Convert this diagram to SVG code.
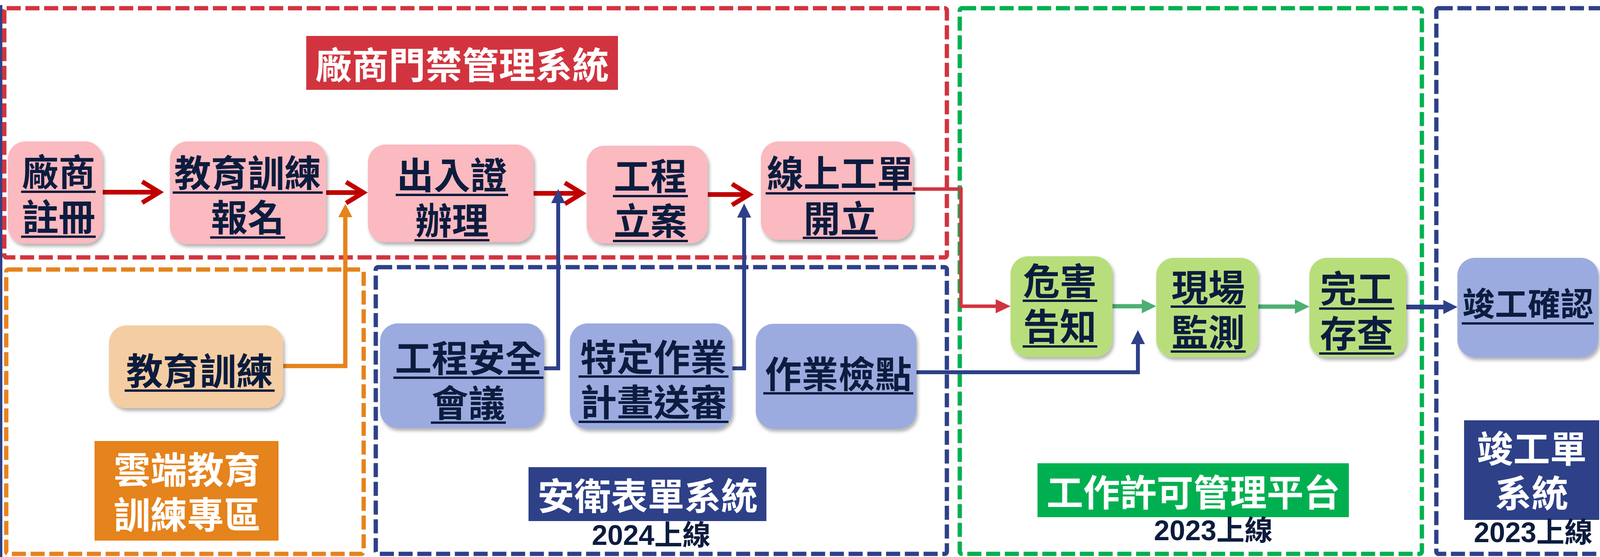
<svg xmlns="http://www.w3.org/2000/svg" width="4154" height="1426" viewBox="0 0 4154 1426">
<style>
.bg{fill:#ffffff}
.box{fill:none;stroke-width:11;stroke-dasharray:36 12}
.red{stroke:#D1343F}.org{stroke:#E5831C}.blu{stroke:#2E4088}.grn{stroke:#00B050}
.pink{fill:#FBB9C0}.lav{fill:#9BABDF}.lg{fill:#B8DE7C}.peach{fill:#F4CDA2}
.nt,.tt{font-family:"Noto Sans CJK TC","Noto Sans CJK SC",sans-serif;font-weight:700;font-size:94px;text-anchor:middle;dominant-baseline:central}
.nt{fill:#0C1C3E}
.tt{fill:#ffffff}
.nt tspan,.tt tspan{dominant-baseline:central}
.yr{font-family:"Liberation Sans","Noto Sans CJK TC",sans-serif;font-weight:700;font-size:72px;fill:#0C1C3E;text-anchor:middle;dominant-baseline:central}
.ul{stroke:#0C1C3E;stroke-width:6}
.c{fill:none;stroke-linejoin:miter}
</style>
<defs>
<filter id="sh" x="-10%" y="-10%" width="125%" height="130%">
<feDropShadow dx="4" dy="7" stdDeviation="4" flood-color="#000" flood-opacity="0.3"/>
</filter>
<marker id="chev" markerUnits="userSpaceOnUse" markerWidth="80" markerHeight="80" viewBox="-60 -40 80 80" refX="0" refY="0" orient="auto" overflow="visible">
<path d="M -44 -27 L 0 0 L -44 27" fill="none" stroke="#C00000" stroke-width="12"/>
</marker>
<marker id="triR" markerUnits="userSpaceOnUse" markerWidth="40" markerHeight="40" viewBox="0 -20 40 40" refX="0" refY="0" orient="auto" overflow="visible">
<path d="M 0 -18 L 38 0 L 0 18 Z" fill="#D1343F"/>
</marker>
<marker id="triB" markerUnits="userSpaceOnUse" markerWidth="40" markerHeight="40" viewBox="0 -20 40 40" refX="0" refY="0" orient="auto" overflow="visible">
<path d="M 0 -18 L 36 0 L 0 18 Z" fill="#2E4088"/>
</marker>
<marker id="triO" markerUnits="userSpaceOnUse" markerWidth="40" markerHeight="40" viewBox="0 -20 40 40" refX="0" refY="0" orient="auto" overflow="visible">
<path d="M 0 -18 L 34 0 L 0 18 Z" fill="#E5831C"/>
</marker>
<marker id="triG" markerUnits="userSpaceOnUse" markerWidth="40" markerHeight="40" viewBox="0 -20 40 40" refX="0" refY="0" orient="auto" overflow="visible">
<path d="M 0 -18 L 37 0 L 0 18 Z" fill="#4DAF72"/>
</marker>
</defs>
<rect class="bg" x="0" y="0" width="4154" height="1426"/>
<rect x="0" y="13" width="6" height="1413" fill="#2E4088"/>

<g id="containers">
<rect class="box red" x="11" y="21" width="2413" height="638" rx="6"/>
<rect class="box org" x="16" y="690" width="915" height="728" rx="6"/>
<rect class="box blu" x="962" y="684" width="1462" height="734" rx="6"/>
<rect class="box grn" x="2457" y="21" width="1183" height="1397" rx="6"/>
<rect class="box blu" x="3677" y="21" width="520" height="1397" rx="6"/>
</g>

<g id="labels">
<g id="label-vendor">
<rect x="784" y="92" width="798" height="138" fill="#D1343F"/>
<text class="tt" x="1183" y="161">廠商門禁管理系統</text>
</g>
<g id="label-cloud">
<rect x="242" y="1129" width="471" height="255" fill="#E5831C"/>
<text class="tt"><tspan x="479" y="1197">雲端教育</tspan><tspan x="479" y="1312">訓練專區</tspan></text>
</g>
<g id="label-safety">
<rect x="1353" y="1196" width="609" height="138" fill="#2E4088"/>
<text class="tt" x="1658" y="1264">安衛表單系統</text>
<text class="yr" x="1667" y="1370">2024上線</text>
</g>
<g id="label-permit">
<rect x="2656" y="1186" width="797" height="138" fill="#00B050"/>
<text class="tt" x="3055" y="1255">工作許可管理平台</text>
<text class="yr" x="3106" y="1358">2023上線</text>
</g>
<g id="label-completion">
<rect x="3748" y="1076" width="346" height="255" fill="#2E4088"/>
<text class="tt"><tspan x="3921" y="1143">竣工單</tspan><tspan x="3921" y="1257">系統</tspan></text>
<text class="yr" x="3925" y="1363">2023上線</text>
</g>
</g>

<g id="connectors">
<path class="c" d="M 263 492 H 408" stroke="#C00000" stroke-width="12" marker-end="url(#chev)"/>
<path class="c" d="M 835 493 H 930" stroke="#C00000" stroke-width="12" marker-end="url(#chev)"/>
<path class="c" d="M 1366 495 H 1490" stroke="#C00000" stroke-width="12" marker-end="url(#chev)"/>
<path class="c" d="M 1812 498 H 1918" stroke="#C00000" stroke-width="12" marker-end="url(#chev)"/>
<path class="c" d="M 2337 484 H 2460 V 784 H 2549" stroke="#D1343F" stroke-width="9" marker-end="url(#triR)"/>
<path class="c" d="M 725 937 H 884 V 556" stroke="#E5831C" stroke-width="11" marker-end="url(#triO)"/>
<path class="c" d="M 1393 943 H 1429 V 520" stroke="#2E4088" stroke-width="10" marker-end="url(#triB)"/>
<path class="c" d="M 1875 943 H 1905 V 557" stroke="#2E4088" stroke-width="10" marker-end="url(#triB)"/>
<path class="c" d="M 2346 953 H 2913 V 881" stroke="#2E4088" stroke-width="10" marker-end="url(#triB)"/>
<path class="c" d="M 2848 784 H 2923" stroke="#4DAF72" stroke-width="11" marker-end="url(#triG)"/>
<path class="c" d="M 3221 785 H 3315" stroke="#4DAF72" stroke-width="11" marker-end="url(#triG)"/>
<path class="c" d="M 3600 786 H 3695" stroke="#2E4088" stroke-width="12" marker-end="url(#triB)"/>
</g>

<g id="n-vendor-reg">
<rect class="pink" x="20" y="362" width="243" height="262" rx="45" filter="url(#sh)"/>
<text class="nt"><tspan x="150" y="435">廠商</tspan><tspan x="150" y="550">註冊</tspan></text>
<line class="ul" x1="54" y1="491" x2="245" y2="491"/>
<line class="ul" x1="54" y1="606" x2="245" y2="606"/>
</g>
<g id="n-training-signup">
<rect class="pink" x="435" y="362" width="400" height="263" rx="45" filter="url(#sh)"/>
<text class="nt"><tspan x="634" y="437">教育訓練</tspan><tspan x="634" y="551">報名</tspan></text>
<line class="ul" x1="442" y1="493" x2="826" y2="493"/>
<line class="ul" x1="538" y1="608" x2="730" y2="608"/>
</g>
<g id="n-pass">
<rect class="pink" x="942" y="370" width="424" height="250" rx="45" filter="url(#sh)"/>
<text class="nt"><tspan x="1157" y="443">出入證</tspan><tspan x="1157" y="559">辦理</tspan></text>
<line class="ul" x1="1013" y1="499" x2="1301" y2="499"/>
<line class="ul" x1="1061" y1="615" x2="1253" y2="615"/>
</g>
<g id="n-project">
<rect class="pink" x="1502" y="373" width="310" height="250" rx="45" filter="url(#sh)"/>
<text class="nt"><tspan x="1665" y="445">工程</tspan><tspan x="1665" y="560">立案</tspan></text>
<line class="ul" x1="1569" y1="502" x2="1761" y2="502"/>
<line class="ul" x1="1569" y1="617" x2="1761" y2="617"/>
</g>
<g id="n-workorder">
<rect class="pink" x="1948" y="362" width="389" height="252" rx="45" filter="url(#sh)"/>
<text class="nt"><tspan x="2151" y="438">線上工單</tspan><tspan x="2151" y="554">開立</tspan></text>
<line class="ul" x1="1960" y1="495" x2="2343" y2="495"/>
<line class="ul" x1="2055" y1="609" x2="2247" y2="609"/>
</g>
<g id="n-training">
<rect class="peach" x="279" y="833" width="446" height="212" rx="45" filter="url(#sh)"/>
<text class="nt" x="511" y="944">教育訓練</text>
<line class="ul" x1="319" y1="1000" x2="703" y2="1000"/>
</g>
<g id="n-safety-meeting">
<rect class="lav" x="973" y="828" width="420" height="268" rx="45" filter="url(#sh)"/>
<text class="nt"><tspan x="1199" y="911">工程安全</tspan><tspan x="1199" y="1026">會議</tspan></text>
<line class="ul" x1="1007" y1="967" x2="1391" y2="967"/>
<line class="ul" x1="1103" y1="1082" x2="1295" y2="1082"/>
</g>
<g id="n-special-plan">
<rect class="lav" x="1459" y="828" width="416" height="270" rx="45" filter="url(#sh)"/>
<text class="nt"><tspan x="1673" y="909">特定作業</tspan><tspan x="1673" y="1024">計畫送審</tspan></text>
<line class="ul" x1="1481" y1="964" x2="1865" y2="964"/>
<line class="ul" x1="1481" y1="1080" x2="1865" y2="1080"/>
</g>
<g id="n-checkpoint">
<rect class="lav" x="1935" y="829" width="411" height="269" rx="45" filter="url(#sh)"/>
<text class="nt" x="2146" y="952">作業檢點</text>
<line class="ul" x1="1954" y1="1007" x2="2338" y2="1007"/>
</g>
<g id="n-hazard">
<rect class="lg" x="2587" y="656" width="261" height="258" rx="45" filter="url(#sh)"/>
<text class="nt"><tspan x="2713" y="714">危害</tspan><tspan x="2713" y="830">告知</tspan></text>
<line class="ul" x1="2618" y1="770" x2="2809" y2="770"/>
<line class="ul" x1="2618" y1="887" x2="2809" y2="887"/>
</g>
<g id="n-monitor">
<rect class="lg" x="2960" y="660" width="261" height="255" rx="45" filter="url(#sh)"/>
<text class="nt"><tspan x="3093" y="730">現場</tspan><tspan x="3093" y="845">監測</tspan></text>
<line class="ul" x1="2997" y1="785" x2="3189" y2="785"/>
<line class="ul" x1="2997" y1="900" x2="3189" y2="900"/>
</g>
<g id="n-archive">
<rect class="lg" x="3352" y="660" width="248" height="255" rx="45" filter="url(#sh)"/>
<text class="nt"><tspan x="3473" y="733">完工</tspan><tspan x="3473" y="848">存查</tspan></text>
<line class="ul" x1="3377" y1="790" x2="3569" y2="790"/>
<line class="ul" x1="3377" y1="905" x2="3569" y2="905"/>
</g>
<g id="n-completion">
<rect class="lav" x="3731" y="660" width="361" height="255" rx="45" filter="url(#sh)"/>
<text class="nt" x="3911" y="772" style="font-size:84px">竣工確認</text>
<line class="ul" x1="3742" y1="828" x2="4080" y2="828"/>
</g>
</svg>
